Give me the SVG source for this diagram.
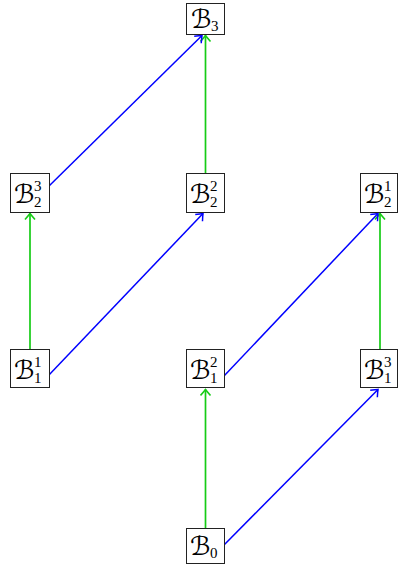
<svg xmlns="http://www.w3.org/2000/svg" width="398" height="568" viewBox="0 0 398 568">
<style>
.box{fill:#fff;stroke:#222;stroke-width:1}
.B{font-family:"DejaVu Sans","Liberation Serif",serif;font-size:26px;fill:#000}
.s{font-family:"Liberation Serif",serif;font-size:15px;fill:#000}
.g{stroke:#16cc16;stroke-width:1.7;fill:none}
.b{stroke:#0000ff;stroke-width:1.5;fill:none}
</style>
<defs>
<marker id="ag" viewBox="-8 -6 10 12" refX="0" refY="0" markerWidth="10" markerHeight="12" markerUnits="userSpaceOnUse" orient="auto">
<path d="M-6,-5 Q-2,-1.5 0,0 Q-2,1.5 -6,5" fill="none" stroke="#16cc16" stroke-width="1.6"/>
</marker>
<marker id="ab" viewBox="-8 -6 10 12" refX="0" refY="0" markerWidth="10" markerHeight="12" markerUnits="userSpaceOnUse" orient="auto">
<path d="M-6,-5 Q-2,-1.5 0,0 Q-2,1.5 -6,5" fill="none" stroke="#0000ff" stroke-width="1.5"/>
</marker>
</defs>
<g id="connectors">
<line class="g" x1="30" y1="349" x2="30" y2="213.5" marker-end="url(#ag)"/>
<line class="g" x1="205.5" y1="173" x2="205.5" y2="35.5" marker-end="url(#ag)"/>
<line class="g" x1="205.5" y1="528" x2="205.5" y2="389.5" marker-end="url(#ag)"/>
<line class="g" x1="380" y1="349" x2="380" y2="213.5" marker-end="url(#ag)"/>
<line class="b" x1="48" y1="376" x2="203" y2="213.5" marker-end="url(#ab)"/>
<line class="b" x1="48" y1="187" x2="202" y2="35.5" marker-end="url(#ab)"/>
<line class="b" x1="224" y1="376" x2="378" y2="213.5" marker-end="url(#ab)"/>
<line class="b" x1="224" y1="545" x2="378" y2="389.5" marker-end="url(#ab)"/>
</g>
<g id="B3">
<rect class="box" x="186.5" y="3.5" width="38" height="31"/>
<text class="B" x="191" y="28">ℬ</text><text class="s" x="211" y="31">3</text>
</g>
<g id="B2_3">
<rect class="box" x="10.5" y="173.5" width="39" height="39"/>
<text class="B" x="14" y="203">ℬ</text><text class="s" x="34" y="191">3</text><text class="s" x="34" y="207">2</text>
</g>
<g id="B2_2">
<rect class="box" x="186.5" y="173.5" width="38" height="39"/>
<text class="B" x="190" y="203">ℬ</text><text class="s" x="210" y="191">2</text><text class="s" x="210" y="207">2</text>
</g>
<g id="B2_1">
<rect class="box" x="360.5" y="173.5" width="37" height="39"/>
<text class="B" x="364" y="203">ℬ</text><text class="s" x="384" y="191">1</text><text class="s" x="384" y="207">2</text>
</g>
<g id="B1_1">
<rect class="box" x="10.5" y="349.5" width="39" height="38"/>
<text class="B" x="14" y="379">ℬ</text><text class="s" x="34" y="367">1</text><text class="s" x="34" y="383">1</text>
</g>
<g id="B1_2">
<rect class="box" x="186.5" y="349.5" width="38" height="38"/>
<text class="B" x="190" y="379">ℬ</text><text class="s" x="210" y="367">2</text><text class="s" x="210" y="383">1</text>
</g>
<g id="B1_3">
<rect class="box" x="360.5" y="349.5" width="37" height="38"/>
<text class="B" x="364" y="379">ℬ</text><text class="s" x="384" y="367">3</text><text class="s" x="384" y="383">1</text>
</g>
<g id="B0">
<rect class="box" x="186.5" y="528.5" width="38" height="35"/>
<text class="B" x="190" y="555">ℬ</text><text class="s" x="210" y="558">0</text>
</g>
</svg>
